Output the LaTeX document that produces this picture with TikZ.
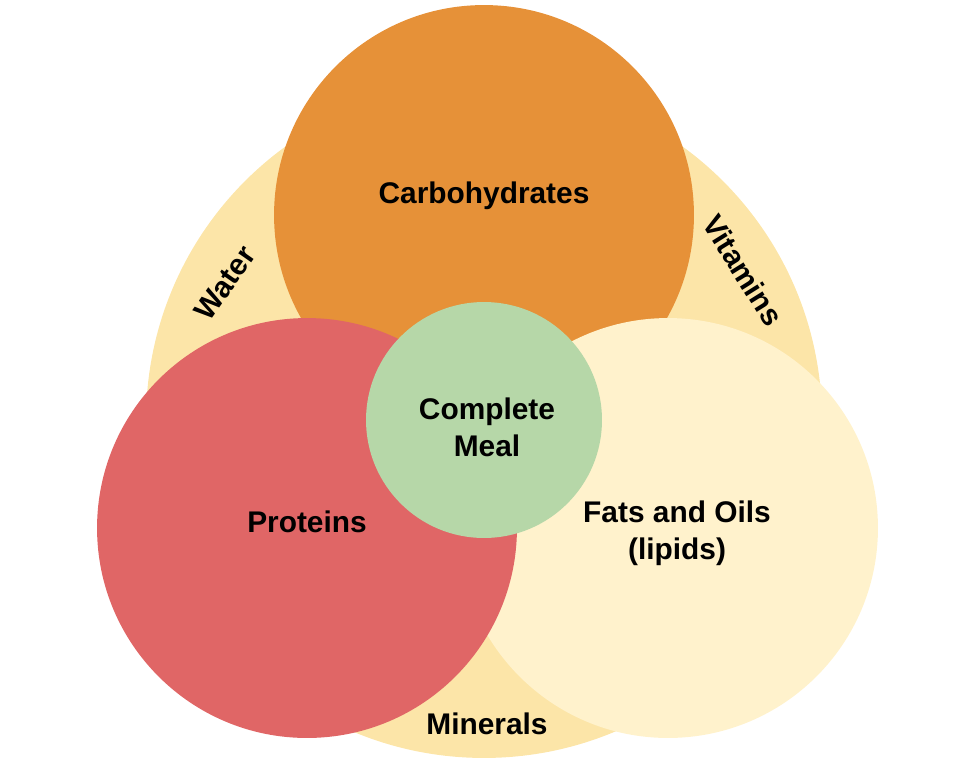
\documentclass[tikz,border=0pt]{standalone}
\usepackage{fontspec}
\setmainfont{Liberation Sans}
\usetikzlibrary{positioning}
\definecolor{carbcol}{HTML}{E69138}
\definecolor{protcol}{HTML}{E06666}
\definecolor{fatcol}{HTML}{FFF2CC}
\definecolor{mealcol}{HTML}{B6D7A8}
\definecolor{glowin}{HTML}{FCE5A8}
\definecolor{glowout}{HTML}{F8D785}
\pgfdeclareradialshading{glow}{\pgfpoint{0bp}{0bp}}{color(0bp)=(glowin); color(32bp)=(glowin); color(50bp)=(glowout)}
\tikzset{
  grp/.style={circle, inner sep=0pt, minimum size=8.4cm},
  core/.style={circle, inner sep=0pt, minimum size=4.72cm, fill=mealcol},
  lab/.style={font=\bfseries\fontsize{17}{21}\selectfont, align=center, inner sep=1pt},
  rim/.style={lab}
}
\begin{document}
\begin{tikzpicture}[x=0.02cm, y=-0.02cm]
		\useasboundingbox (0,0) rectangle (976,765);
		\shade[shading=glow] (484,420) circle[radius=6.76cm];
		\node[grp, fill=carbcol] (carb) at (484,215) {};
		\node[grp, fill=fatcol] (fat) at (668,528) {};
		\node[grp, fill=protcol] (prot) at (307,528) {};
		\node[core] (meal) at (484,420) {};
		\node[lab] (carbt) at (484,196) {Carbohydrates};
		\node[lab] (prott) at (307,522) {Proteins};
		\node[lab] (fatt) at (677,533) {Fats and Oils\\(lipids)};
		\node[lab] (mealt) at (487,427) {Complete\\Meal};
		\node[rim, rotate=55] (water) at (225,283) {Water};
		\node[rim, rotate=-58] (vit) at (743,270) {Vitamins};
		\node[rim] (min) at (487,724) {Minerals};
	\end{tikzpicture}
\end{document}
